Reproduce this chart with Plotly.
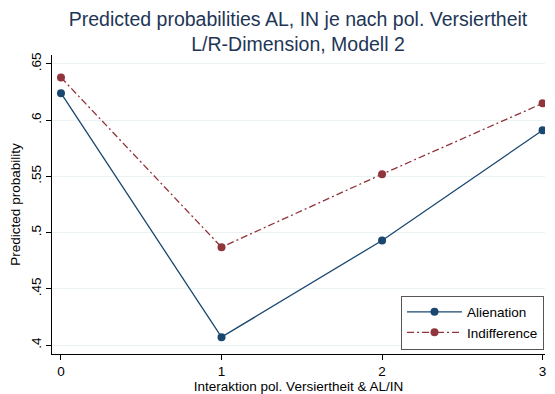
import plotly.graph_objects as go

# Predicted probabilities by interaction level
x_levels = [0, 1, 2, 3]
alienation = [0.624, 0.407, 0.493, 0.591]
indifference = [0.638, 0.487, 0.552, 0.615]

y_ticks = [0.4, 0.45, 0.5, 0.55, 0.6, 0.65]
y_ticktext = [".4", ".45", ".5", ".55", ".6", ".65"]
x_ticktext = ["0", "1", "2", "3"]

navy = "#1a476f"
maroon = "#90353b"
font_family = "Liberation Sans, Arial, Helvetica, sans-serif"

fig = go.Figure()
fig.add_trace(go.Scatter(
    x=x_levels, y=alienation, name="Alienation", mode="lines+markers",
    line=dict(color=navy, width=1.3),
    marker=dict(color=navy, size=8),
))
fig.add_trace(go.Scatter(
    x=x_levels, y=indifference, name="Indifference", mode="lines+markers",
    line=dict(color=maroon, width=1.3, dash="7px,3px,2px,3px"),
    marker=dict(color=maroon, size=8),
))

fig.update_layout(
    width=555, height=394,
    margin=dict(l=52, r=10, t=55, b=40),
    paper_bgcolor="white", plot_bgcolor="white",
    font=dict(family=font_family, size=13.5, color="black"),
    title=dict(
        text="Predicted probabilities AL, IN je nach pol. Versiertheit<br>L/R-Dimension, Modell 2",
        x=0.537, xanchor="center", yref="container", y=0.935, yanchor="top",
        font=dict(size=19.5, color="#1e3656"),
    ),
    showlegend=True,
    legend=dict(
        x=0.998, xanchor="right", y=0.015, yanchor="bottom",
        bgcolor="white", bordercolor="#555555", borderwidth=1,
        font=dict(size=13.5, color="black"),
        tracegroupgap=0, itemwidth=55,
    ),
)

fig.update_xaxes(
    range=[-0.056, 3.015], automargin=False,
    tickvals=x_levels, ticktext=x_ticktext,
    ticks="outside", ticklen=5, tickcolor="black",
    showline=True, linecolor="black", linewidth=1,
    showgrid=False, zeroline=False,
    title=dict(text="Interaktion pol. Versiertheit &amp; AL/IN", standoff=0, font=dict(size=13.5)),
    tickfont=dict(size=13.5),
)
fig.update_yaxes(
    range=[0.392, 0.658], automargin=False,
    tickvals=y_ticks, ticktext=y_ticktext, tickangle=-90,
    ticks="outside", ticklen=5, tickcolor="black",
    showline=True, linecolor="black", linewidth=1,
    showgrid=True, gridcolor="#eaf2f3", gridwidth=1, zeroline=False,
    title=dict(text="Predicted probability", standoff=4, font=dict(size=13.5)),
    tickfont=dict(size=13.5),
)

fig.write_html("out.html")
